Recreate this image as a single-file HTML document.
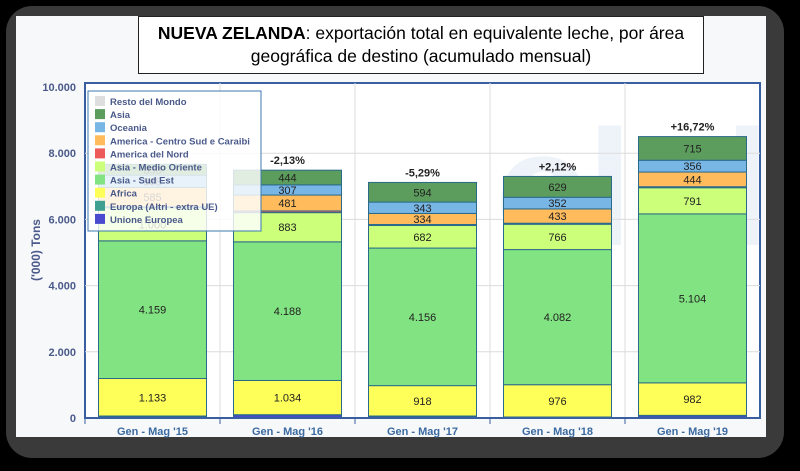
<!DOCTYPE html>
<html><head><meta charset="utf-8">
<style>
html,body{margin:0;padding:0;background:#000;}
#wrap{position:relative;width:800px;height:471px;background:#000;overflow:hidden;font-family:"Liberation Sans",sans-serif;}
#frame{position:absolute;left:6px;top:6px;width:778px;height:452px;border-radius:26px;background:#3a3a3a;}
#panel{position:absolute;left:16px;top:16px;width:750px;height:421px;background:#f7f8fa;}
#title{position:absolute;left:138px;top:16px;width:566px;height:58px;background:#fff;border:1px solid #222;box-sizing:border-box;text-align:center;font-size:17.5px;line-height:23px;padding-top:5px;color:#000;}
svg{position:absolute;left:0;top:0;}
</style></head><body>
<div id="wrap">
<div id="frame"></div>
<div id="panel"></div>
<svg id="chart" width="800" height="471"></svg>
<div id="title"><b>NUEVA ZELANDA</b>: exportación total en equivalente leche, por área<br>geográfica de destino (acumulado mensual)</div>
</div>
<script>
const categories=["Gen - Mag '15","Gen - Mag '16","Gen - Mag '17","Gen - Mag '18","Gen - Mag '19"];
const seriesNames=["Unione Europea","Europa (Altri - extra UE)","Africa","Asia - Sud Est","Asia - Medio Oriente","America del Nord","America - Centro Sud e Caraibi","Oceania","Asia","Resto del Mondo"];
const seriesColors=["#4a4ad0","#3f9f90","#ffff5a","#82e382","#ccff7a","#ec5a5a","#ffbb5c","#78b6e6","#5c9c5c","#dedede"];
const unioneEuropea=[50,90,50,20,70];
const europaAltri=[10,10,10,10,10];
const africa=[1133,1034,918,976,982];
const asiaSudEst=[4159,4188,4156,4082,5104];
const asiaMedioOriente=[1000,883,682,766,791];
const americaNord=[30,50,30,30,30];
const americaCentroSud=[585,481,334,433,444];
const oceania=[368,307,343,352,356];
const asia=[330,444,594,629,715];
const restoMondo=[0,0,0,0,0];
const series=[unioneEuropea,europaAltri,africa,asiaSudEst,asiaMedioOriente,americaNord,americaCentroSud,oceania,asia,restoMondo];
const labeled=[false,false,true,true,true,false,true,true,true,false];
const pctLabels=["","-2,13%","-5,29%","+2,12%","+16,72%"];
const yTicks=[0,2000,4000,6000,8000,10000];
const yTickLabels=["0","2.000","4.000","6.000","8.000","10.000"];
const NS="http://www.w3.org/2000/svg";
const svg=document.getElementById('chart');
const L=85,R=760,T=87,B=418,ymax=10000;
const y=v=>B-(v/ymax)*(B-T);
const bandW=(R-L)/categories.length;
const x=i=>L+i*bandW;
const barW=108;
function mk(tag,attrs,parent){const e=document.createElementNS(NS,tag);for(const k in attrs)e.setAttribute(k,attrs[k]);(parent||svg).appendChild(e);return e;}
function fmt(v){return v>=1000?Math.floor(v/1000)+"."+String(v%1000).padStart(3,"0"):String(v);}
const bg=mk('rect',{x:L,y:83,width:R-L,height:B-83,fill:'#fff',stroke:'#3a5fa0','stroke-width':2});


const wm=mk('text',{x:495,y:245,'font-size':165,'font-weight':'bold',fill:'#eef3fa','font-family':'Liberation Sans, sans-serif'});
wm.textContent='clal';


yTicks.forEach((t,i)=>{
 if(t>0&&t<ymax){const g=mk('line',{x1:L,x2:R,y1:y(t),y2:y(t),stroke:'#dcdcdc','stroke-width':1});
 
 }
 const tl=mk('text',{x:76,y:y(t)+4,'text-anchor':'end','font-size':11,'font-weight':'bold',fill:'#4a5a8a'});
 tl.textContent=yTickLabels[i];
 
 
});
for(let i=1;i<categories.length;i++){const g=mk('line',{x1:x(i),x2:x(i),y1:83,y2:B,stroke:'#dcdcdc'});
 
 }
categories.forEach((c,i)=>{
 let acc=0;const bx=x(i)+(bandW-barW)/2;
 series.forEach((s,k)=>{
  const v=s[i];if(v<=0)return;
  const r=mk('rect',{x:bx,y:y(acc+v),width:barW,height:y(acc)-y(acc+v),fill:seriesColors[k],stroke:'#2a6a8a','stroke-width':1});
  
  
  if(labeled[k]){const t=mk('text',{x:bx+barW/2,y:(y(acc)+y(acc+v))/2+4,'text-anchor':'middle','font-size':11,fill:'#222'});
   t.textContent=fmt(v);
   
   }
  acc+=v;
 });
 if(pctLabels[i]){const p=mk('text',{x:bx+barW/2,y:y(acc)-6,'text-anchor':'middle','font-size':11,'font-weight':'bold',fill:'#222'});
  p.textContent=pctLabels[i];
  
  }
 const cl=mk('text',{x:bx+barW/2,y:435,'text-anchor':'middle','font-size':11,'font-weight':'bold',fill:'#3a6aa0'});
 cl.textContent=c;
 
 
 const tk=mk('line',{x1:x(i),x2:x(i),y1:B,y2:B+6,stroke:'#3a5fa0'});
 
 
});
const ax=mk('line',{x1:L,x2:R,y1:B,y2:B,stroke:'#3a5fa0','stroke-width':2});


const yt=mk('text',{x:40,y:250,'text-anchor':'middle','font-size':12,'font-weight':'bold',fill:'#4a5a8a',transform:'rotate(-90 40 250)'});
yt.textContent="('000) Tons";


const lg=mk('rect',{x:88,y:91,width:173,height:140,fill:'rgba(255,255,255,0.82)',stroke:'#3a7ab0','stroke-width':1});


for(let k=seriesNames.length-1,j=0;k>=0;k--,j++){
 const ly=99+j*13.1;
 const sw=mk('rect',{x:95,y:ly-3,width:10,height:10,fill:seriesColors[k]});
 
 
 const lt=mk('text',{x:110,y:ly+6,'font-size':9.5,'font-weight':'bold',fill:'#4a5a8a'});
 lt.textContent=seriesNames[k];
 
 
}
</script>
</body></html>
